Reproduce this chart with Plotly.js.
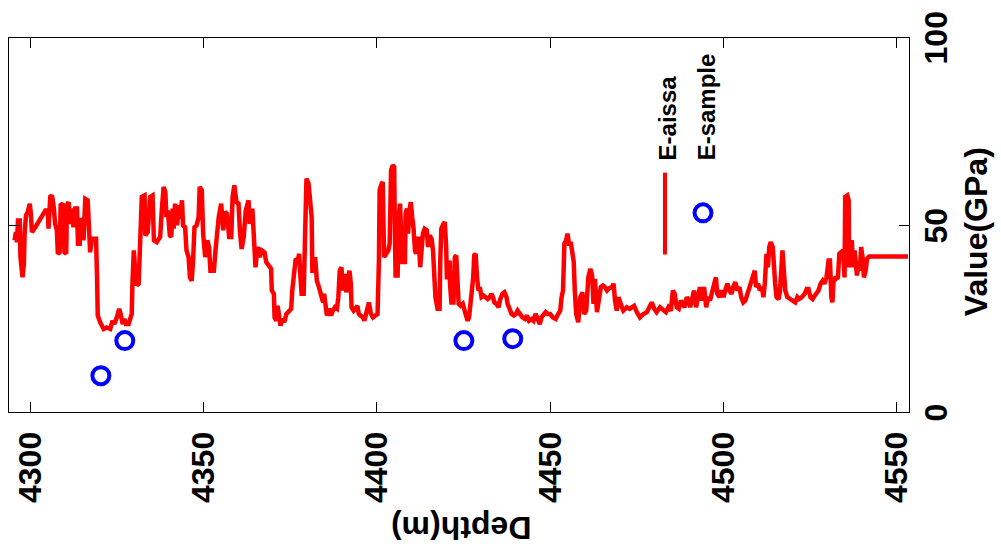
<!DOCTYPE html>
<html>
<head>
<meta charset="utf-8">
<script src="https://cdn.plot.ly/plotly-3.0.1.min.js"></script>
<style>html,body{margin:0;padding:0;background:#fff;}#chart{width:1001px;height:553px;}</style>
</head>
<body>
<div id="chart"></div>
<script>
// E-aissa log: depth (m) and value (GPa)
const depth = [
4295.5,4295.9,4296.2,4296.5,4297.0,4297.2,4297.8,4298.2,4298.4,4298.8,4299.3,4299.9,4300.2,4300.5,4301.5,4304.4,4305.1,4305.3,4305.8,4306.3,
4306.8,4307.2,4307.7,4308.0,4308.5,4308.8,4309.4,4309.6,4309.9,4310.4,4310.6,4311.1,4311.6,4312.1,4312.5,4313.0,4313.5,4313.8,4314.3,4314.5,
4314.9,4315.4,4315.9,4316.6,4316.9,4317.3,4317.8,4319.0,4319.3,4319.5,4320.2,4321.2,4322.1,4323.1,4323.8,4324.3,4325.0,4325.7,4326.1,4326.7,
4327.2,4327.6,4328.4,4328.9,4329.3,4329.5,4329.9,4330.3,4330.8,4331.3,4331.7,4332.2,4333.0,4333.2,4333.9,4334.6,4335.3,4335.7,4336.5,4337.5,
4338.0,4338.5,4339.0,4339.3,4339.7,4340.3,4340.7,4341.1,4341.4,4341.8,4342.4,4342.8,4343.2,4343.8,4344.1,4344.7,4345.1,4345.7,4346.1,4346.6,
4347.0,4347.4,4348.0,4348.6,4348.9,4349.5,4349.9,4350.5,4351.1,4351.6,4352.0,4353.0,4353.5,4353.9,4354.4,4355.1,4355.7,4356.2,4356.8,4357.4,
4358.0,4358.4,4358.9,4359.5,4360.1,4360.5,4361.0,4361.6,4362.2,4363.0,4363.3,4364.1,4364.5,4365.0,4365.6,4366.2,4366.8,4367.6,4368.1,4368.9,
4369.5,4369.7,4370.3,4370.5,4371.0,4371.4,4371.8,4372.2,4372.8,4373.3,4373.9,4374.7,4375.3,4375.6,4376.2,4376.6,4377.2,4377.6,4377.9,4378.3,
4378.9,4379.3,4379.7,4380.3,4380.8,4381.2,4381.4,4381.8,4382.2,4382.7,4383.3,4383.9,4384.5,4384.8,4385.2,4385.6,4386.2,4386.8,4387.3,4387.9,
4388.5,4388.9,4389.3,4389.8,4390.2,4390.8,4391.2,4391.8,4392.1,4392.5,4392.7,4393.3,4393.9,4394.4,4394.8,4395.4,4396.0,4396.4,4396.7,4397.1,
4397.7,4398.3,4398.9,4399.6,4400.2,4400.6,4400.8,4401.4,4401.7,4402.1,4402.7,4403.3,4403.7,4404.1,4404.6,4405.0,4405.2,4405.4,4406.0,4406.3,
4406.7,4407.1,4407.3,4408.1,4408.3,4408.7,4409.0,4409.4,4409.8,4410.2,4410.6,4411.0,4411.3,4411.7,4412.1,4412.5,4412.9,4413.3,4413.8,4414.4,
4414.8,4415.2,4415.8,4416.2,4416.5,4416.9,4417.5,4418.1,4418.3,4418.6,4419.2,4419.6,4420.0,4420.2,4420.6,4421.0,4421.1,4421.5,4422.1,4422.5,
4422.9,4423.3,4423.6,4424.2,4424.8,4425.6,4426.2,4426.6,4427.0,4427.4,4427.8,4428.1,4428.5,4428.9,4429.3,4429.7,4430.2,4430.8,4431.4,4432.0,
4432.6,4433.0,4433.5,4433.9,4434.5,4435.1,4435.6,4436.2,4436.8,4437.4,4437.7,4438.3,4438.9,4439.5,4440.1,4440.6,4441.2,4442.0,4442.7,4443.3,
4443.9,4444.7,4445.2,4445.8,4446.4,4447.0,4447.5,4448.1,4448.7,4449.3,4450.0,4450.8,4451.6,4452.3,4452.9,4453.3,4453.7,4454.1,4454.6,4455.0,
4455.4,4456.0,4456.4,4456.8,4457.1,4457.5,4458.1,4458.7,4459.3,4459.8,4460.4,4461.0,4461.6,4462.1,4462.5,4462.9,4463.5,4464.1,4464.6,4465.2,
4465.8,4466.4,4466.9,4467.8,4468.3,4468.7,4469.2,4469.7,4470.2,4470.7,4471.1,4472.1,4472.9,4473.5,4474.2,4475.0,4475.9,4476.9,4477.9,4478.6,
4479.3,4480.0,4480.7,4481.7,4482.7,4483.4,4484.1,4484.8,4485.4,4485.9,4486.5,4487.1,4487.7,4488.2,4488.8,4489.4,4490.0,4490.4,4490.9,4491.5,
4492.1,4492.7,4493.2,4493.8,4494.4,4495.0,4495.5,4496.1,4496.7,4497.3,4497.8,4498.2,4498.8,4499.4,4500.0,4500.5,4501.1,4501.7,4502.3,4502.8,
4503.4,4504.0,4504.6,4505.1,4505.7,4506.3,4506.9,4507.5,4508.0,4508.6,4509.0,4509.4,4510.0,4510.5,4511.1,4511.5,4511.9,4512.4,4512.8,4513.2,
4513.6,4514.2,4514.5,4514.9,4515.3,4515.9,4516.3,4516.6,4517.0,4517.4,4517.8,4518.4,4519.1,4519.9,4520.7,4521.3,4521.8,4522.6,4523.4,4524.0,
4524.5,4525.1,4525.7,4526.3,4526.8,4527.4,4528.0,4528.6,4529.1,4529.7,4530.3,4530.7,4531.1,4531.4,4531.8,4532.4,4533.0,4533.4,4533.9,4534.5,
4534.9,4535.1,4535.7,4536.1,4536.2,4536.6,4537.0,4537.4,4537.8,4538.2,4538.5,4538.9,4539.3,4539.7,4540.1,4540.5,4541.0,4541.4,4542.0,4553.2
];
const eAissa = [
45.9,48.1,45.4,51.2,51.2,41.4,36.0,39.6,47.7,52.6,53.5,55.7,53.0,48.1,49.4,53.9,53.9,49.0,57.5,57.9,
54.8,50.3,48.6,42.3,42.7,55.3,55.7,50.3,42.7,42.3,55.3,56.1,50.3,54.4,49.4,54.4,54.4,45.0,45.0,51.7,
51.2,45.9,57.0,56.6,45.9,42.7,46.3,46.3,36.0,25.8,24.0,22.2,22.6,22.2,24.4,23.5,25.3,27.6,26.2,23.5,
24.9,23.5,23.5,25.3,26.2,34.3,43.2,37.8,33.8,34.3,45.0,57.5,57.9,47.2,48.1,57.5,57.9,45.9,45.4,46.8,
54.4,60.2,58.8,52.1,53.9,47.2,46.8,54.4,49.0,55.7,49.9,55.3,51.7,56.6,49.9,49.4,43.2,41.4,36.0,35.1,
40.5,49.4,49.9,52.1,60.2,59.3,47.7,41.4,45.9,44.1,37.8,37.8,43.6,49.4,52.1,55.7,48.6,53.5,53.0,46.8,
46.8,57.5,60.6,56.1,55.7,48.6,43.6,46.8,53.9,56.6,50.3,54.4,45.0,38.7,44.1,41.4,43.2,42.7,40.1,39.2,
38.3,32.5,31.6,25.3,24.4,28.4,24.0,23.1,24.9,24.0,26.2,27.1,27.6,32.5,36.9,41.0,40.5,42.3,36.9,31.6,
31.6,52.1,62.4,61.1,56.6,52.1,37.8,37.8,41.4,35.1,33.4,31.6,29.3,31.6,29.3,25.8,27.6,25.8,27.1,28.0,
27.6,30.7,37.8,38.7,32.5,36.9,32.0,37.8,37.8,34.3,28.0,27.1,28.0,28.4,26.2,25.8,25.3,24.4,25.8,26.7,
29.3,26.2,25.3,25.8,26.2,40.5,59.3,61.1,61.5,41.4,42.3,43.2,45.0,64.6,66.0,65.5,48.6,36.5,36.5,52.1,
55.7,47.7,40.1,40.1,53.0,54.4,47.7,53.9,56.1,52.1,49.0,43.2,42.3,46.3,46.3,38.7,43.2,47.7,49.0,48.6,
44.1,47.2,46.3,43.2,37.8,30.7,27.6,27.6,40.5,49.0,50.3,50.8,44.1,36.0,36.0,40.5,34.3,29.3,29.3,41.4,
41.9,32.5,28.9,28.4,28.9,26.2,24.4,25.3,28.9,32.5,36.0,41.9,42.3,36.0,32.5,33.4,30.7,31.1,30.7,30.2,
30.7,31.6,30.7,29.3,28.9,28.0,30.2,31.6,32.0,30.7,28.9,27.1,26.2,25.8,26.2,27.1,26.2,25.3,24.9,25.8,
24.4,24.9,24.4,26.2,24.9,23.5,25.3,26.2,26.7,26.2,26.2,25.3,24.9,26.2,27.1,30.7,32.5,45.0,45.9,47.7,
45.0,45.0,41.4,40.1,32.5,26.2,24.0,30.7,32.0,26.2,27.1,36.0,38.3,36.5,28.9,35.6,26.7,30.7,33.4,33.8,
33.4,32.5,33.0,33.4,34.3,29.8,27.1,30.7,28.9,28.0,27.1,28.0,27.6,28.0,28.4,26.7,25.3,26.2,26.7,28.0,
29.3,27.6,26.7,28.0,27.1,26.7,28.0,27.1,32.5,31.6,28.0,27.6,29.8,28.9,28.0,30.7,29.8,28.0,30.7,32.5,
28.0,31.6,33.4,29.8,33.4,28.0,30.7,29.8,32.5,35.1,36.0,31.6,30.7,32.5,30.7,32.5,34.3,32.5,31.6,33.4,
34.7,32.5,33.4,30.7,29.3,29.8,31.6,33.4,34.3,36.0,37.8,33.4,34.3,32.5,33.4,30.7,34.3,42.3,38.7,44.1,
45.4,44.1,36.9,34.3,30.7,30.2,32.5,37.8,43.2,37.8,32.5,30.7,30.2,29.8,29.3,30.7,30.2,30.7,31.6,32.9,
32.9,30.7,30.2,31.1,31.6,32.5,34.3,35.1,34.3,36.0,40.5,40.5,30.7,29.3,36.0,35.6,36.0,42.3,42.7,43.2,
36.0,57.5,57.9,56.6,38.7,45.0,45.9,38.7,43.2,40.5,36.5,39.6,37.8,44.1,41.4,36.0,37.8,41.0,41.6,41.6
];
// E-sample core measurements
const sampleDepth = [4320.4, 4327.3, 4425.1, 4439.2];
const eSample = [9.7, 19.1, 19.1, 19.6];
// axis ticks
const xTicks = [4300, 4350, 4400, 4450, 4500, 4550];
const yTicks = [0, 50, 100];
const legendNames = ['E-aissa', 'E-sample'];

const FONT = 'Liberation Sans, Arial, sans-serif';
const boldFont = (s) => ({family: FONT, size: s, color: '#000', weight: 'bold'});

const traces = [
  {x: depth, y: eAissa, type: 'scatter', mode: 'lines', name: legendNames[0],
   line: {color: '#ff0000', width: 4.5}, showlegend: false, cliponaxis: true},
  {x: sampleDepth, y: eSample, type: 'scatter', mode: 'markers', name: legendNames[1],
   marker: {symbol: 'circle-open', size: 17, color: '#0000ff', line: {color: '#0000ff', width: 4}},
   showlegend: false}
];

const axisCommon = {
  showgrid: false, zeroline: false, showline: true, mirror: 'ticks',
  linecolor: '#000', linewidth: 1, ticks: 'inside', ticklen: 10, tickwidth: 1, tickcolor: '#000',
  tickfont: boldFont(32)
};

// y tick labels drawn as rotated annotations at the tick values
const yTickLabels = yTicks.map(v => ({
  text: String(v), xref: 'paper', yref: 'y', x: 1.0305, y: v, showarrow: false,
  textangle: -90, xanchor: 'center', yanchor: 'middle', font: boldFont(32)
}));

const layout = {
  width: 1001, height: 553,
  margin: {l: 9, r: 92, t: 38, b: 141, pad: 0},
  paper_bgcolor: '#fff', plot_bgcolor: '#fff',
  showlegend: false,
  xaxis: Object.assign({}, axisCommon, {
    range: [4293.9, 4553.5], tickmode: 'array', tickvals: xTicks, ticktext: xTicks.map(String),
    tickangle: -90, ticklabelstandoff: 6
  }),
  yaxis: Object.assign({}, axisCommon, {
    range: [0, 100], side: 'right', tickmode: 'array', tickvals: yTicks, showticklabels: false
  }),
  annotations: yTickLabels.concat([
    {text: 'Depth(m)', xref: 'paper', yref: 'paper', x: 0.503, y: -0.31, showarrow: false,
     textangle: 180, xanchor: 'center', yanchor: 'middle', font: boldFont(32)},
    {text: 'Value(GPa)', xref: 'paper', yref: 'paper', x: 1.0745, y: 0.481, showarrow: false,
     textangle: -90, xanchor: 'center', yanchor: 'middle', font: boldFont(32)},
    {text: legendNames[0], xref: 'paper', yref: 'paper', x: 0.7311, y: 0.6687, showarrow: false,
     textangle: -90, xanchor: 'center', yanchor: 'bottom', font: boldFont(24)},
    {text: legendNames[1], xref: 'paper', yref: 'paper', x: 0.7744, y: 0.6687, showarrow: false,
     textangle: -90, xanchor: 'center', yanchor: 'bottom', font: boldFont(24)}
  ]),
  shapes: [
    {type: 'line', xref: 'paper', yref: 'paper', x0: 0.7289, x1: 0.7289, y0: 0.421, y1: 0.640,
     line: {color: '#ff0000', width: 4}},
    {type: 'circle', xref: 'paper', yref: 'paper', xsizemode: 'pixel', ysizemode: 'pixel',
     xanchor: 0.7711, yanchor: 0.5325, x0: -8.5, x1: 8.5, y0: -8.5, y1: 8.5,
     line: {color: '#0000ff', width: 4}}
  ]
};

Plotly.newPlot('chart', traces, layout, {staticPlot: true, displayModeBar: false});
</script>
</body>
</html>
